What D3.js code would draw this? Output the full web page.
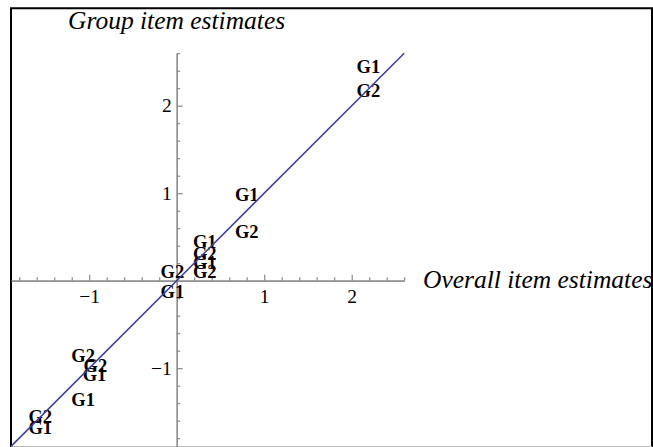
<!DOCTYPE html>
<html>
<head>
<meta charset="utf-8">
<script src="https://cdn.jsdelivr.net/npm/d3@7"></script>
<style>
  html, body { margin: 0; padding: 0; background: #fff; }
  svg { display: block; }
</style>
</head>
<body>
<svg id="chart" width="653" height="447"></svg>
<script>
// point labels and their (overall, group) estimates
const labels = ['G1', 'G2', 'G1', 'G2', 'G1', 'G2', 'G1', 'G2', 'G2', 'G1', 'G2', 'G2', 'G1', 'G1', 'G2', 'G1'];
const overallVals = [2.19, 2.19, 0.80, 0.80, 0.32, 0.32, 0.32, 0.32, -0.05, -0.05, -1.07, -0.93, -0.94, -1.07, -1.56, -1.56];
const groupVals = [2.44, 2.17, 0.98, 0.56, 0.44, 0.31, 0.21, 0.10, 0.10, -0.13, -0.86, -0.97, -1.08, -1.36, -1.56, -1.68];

// reference line y = x
const lineX = [-1.894, 2.6];
const lineY = [-1.894, 2.6];

const xTickVals = [-1, 1, 2];
const yTickVals = [-1, 1, 2];
const xTitle = 'Overall item estimates';
const yTitle = 'Group item estimates';

const svg = d3.select('#chart');

const x = d3.scaleLinear().domain([-1.894, 2.6]).range([11, 404.2]);
const y = d3.scaleLinear().domain([-1.894, 2.6]).range([446.4, 53.2]);

const minorX = d3.range(-18, 27, 2).map(d => d / 10).filter(d => Math.abs(d - Math.round(d)) > 1e-6);
const minorY = minorX.slice();

const axisColor = '#8a8a8a';
const serif = '"Liberation Serif", "Times New Roman", serif';

// frame
svg.append('path')
    .attr('d', 'M11,447 L11,8.3 L652,8.3 L652,447')
    .attr('fill', 'none')
    .attr('stroke', '#000')
    .attr('stroke-width', 2);
svg.append('line')
    .attr('x1', 11).attr('x2', 652)
    .attr('y1', 446.5).attr('y2', 446.5)
    .attr('stroke', '#bbb')
    .attr('stroke-width', 1);

// x axis (ticks point up, labels below)
const xAxisG = svg.append('g')
    .attr('transform', `translate(0, ${y(0)})`);
xAxisG.append('g')
    .call(d3.axisBottom(x).tickValues(minorX).tickSizeInner(-3.5).tickSizeOuter(0).tickFormat(''));
xAxisG.append('g')
    .call(d3.axisBottom(x).tickValues(xTickVals).tickSizeInner(-6).tickSizeOuter(0).tickPadding(8)
        .tickFormat(d => d < 0 ? '\u2212' + Math.abs(d) : d));

// y axis (ticks point right, labels left)
const yAxisG = svg.append('g')
    .attr('transform', `translate(${x(0)}, 0)`);
yAxisG.append('g')
    .call(d3.axisLeft(y).tickValues(minorY).tickSizeInner(-3.5).tickSizeOuter(0).tickFormat(''));
yAxisG.append('g')
    .call(d3.axisLeft(y).tickValues(yTickVals).tickSizeInner(-6).tickSizeOuter(0).tickPadding(5)
        .tickFormat(d => d < 0 ? '\u2212' + Math.abs(d) : d));

svg.selectAll('.domain').attr('stroke', axisColor).attr('stroke-width', 1.2);
svg.selectAll('.tick line').attr('stroke', axisColor).attr('stroke-width', 1.2);
svg.selectAll('.tick text')
    .attr('fill', '#000')
    .style('font-family', serif)
    .style('font-size', '19.5px');

// axis titles
svg.append('text')
    .attr('x', 68)
    .attr('y', 29)
    .style('font-family', serif)
    .style('font-style', 'italic')
    .style('font-size', '25.5px')
    .text(yTitle);

svg.append('text')
    .attr('x', 423)
    .attr('y', y(0) + 7)
    .style('font-family', serif)
    .style('font-style', 'italic')
    .style('font-size', '25.5px')
    .text(xTitle);

// point labels
svg.append('g')
    .selectAll('text')
    .data(labels)
    .enter()
    .append('text')
    .attr('x', (d, i) => x(overallVals[i]))
    .attr('y', (d, i) => y(groupVals[i]))
    .attr('dy', '0.34em')
    .attr('text-anchor', 'middle')
    .style('font-family', serif)
    .style('font-weight', 'bold')
    .style('font-size', '18.5px')
    .text(d => d);

// reference line
svg.append('path')
    .datum(lineX.map((d, i) => [d, lineY[i]]))
    .attr('fill', 'none')
    .attr('stroke', 'rgb(61, 61, 153)')
    .attr('stroke-width', 1.5)
    .attr('d', d3.line().x(d => x(d[0])).y(d => y(d[1])));
</script>
</body>
</html>
